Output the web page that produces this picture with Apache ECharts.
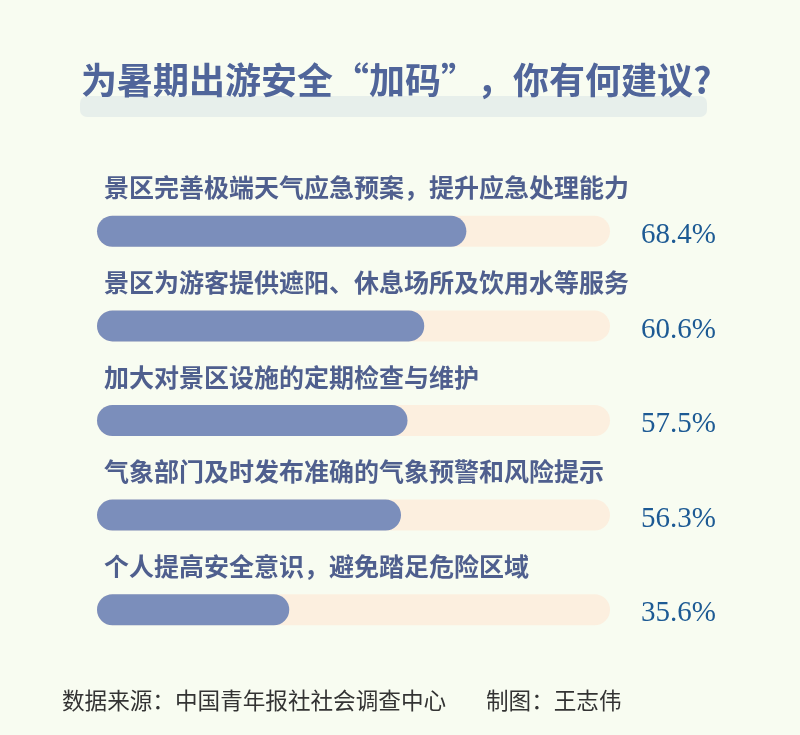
<!DOCTYPE html>
<html>
<head>
<meta charset="utf-8">
<script src="https://cdn.jsdelivr.net/npm/echarts@6/dist/echarts.min.js"></script>
<style>
html,body{margin:0;padding:0;background:#f8fcf1;}
#c{width:800px;height:735px;}
</style>
</head>
<body>
<div id="c"></div>
<script>
const categories = [
  '景区完善极端天气应急预案，提升应急处理能力',
  '景区为游客提供遮阳、休息场所及饮用水等服务',
  '加大对景区设施的定期检查与维护',
  '气象部门及时发布准确的气象预警和风险提示',
  '个人提高安全意识，避免踏足危险区域'
];
const values = [68.4, 60.6, 57.5, 56.3, 35.6];
const axisMax = 95;
const titleText = '为暑期出游安全“加码”，你有何建议?';
const sourceText = '数据来源：中国青年报社社会调查中心';
const authorText = '制图：王志伟';

const chart = echarts.init(document.getElementById('c'), null, {renderer: 'canvas'});
const cjk = '"Noto Sans CJK SC", "Noto Sans", sans-serif';
chart.setOption({
  backgroundColor: '#f8fcf1',
  animation: false,
  title: [
    {
      text: titleText,
      left: 76, top: 57, z: 10,
      textStyle: {fontSize: 36, fontWeight: 'bold', color: '#50659a', fontFamily: cjk}
    },
    {
      text: sourceText,
      left: 57, top: 684, z: 10,
      textStyle: {fontSize: 22.6, fontWeight: 'normal', color: '#333333', fontFamily: cjk}
    },
    {
      text: authorText,
      left: 481, top: 684, z: 10,
      textStyle: {fontSize: 22.6, fontWeight: 'normal', color: '#333333', fontFamily: cjk}
    }
  ],
  graphic: [
    {type: 'rect', z: 0, shape: {x: 80, y: 96, width: 627, height: 21, r: 7}, style: {fill: '#e7efeb'}}
  ],
  grid: {left: 97, right: 190, top: 184, bottom: 78},
  xAxis: {type: 'value', min: 0, max: axisMax, show: false},
  yAxis: {type: 'category', data: categories, inverse: true, show: false},
  series: [
    {
      type: 'bar', barWidth: 31, barGap: '-100%', silent: true,
      data: categories.map(() => axisMax),
      itemStyle: {color: '#fcefdf', borderRadius: 15.5},
      label: {
        show: true, position: [7, -28], align: 'left', verticalAlign: 'middle',
        formatter: p => categories[p.dataIndex],
        fontSize: 25, fontWeight: 'bold', color: '#4f5f8e', fontFamily: cjk
      }
    },
    {
      type: 'bar', barWidth: 31, barGap: '-100%', silent: true,
      data: values,
      itemStyle: {color: '#7b8ebb', borderRadius: 15.5}
    },
    {
      type: 'bar', barWidth: 31, barGap: '-100%', silent: true,
      data: categories.map(() => axisMax),
      itemStyle: {color: 'rgba(0,0,0,0)'},
      label: {
        show: true, position: 'right', distance: 31, offset: [0, 4],
        formatter: p => values[p.dataIndex].toFixed(1) + '%',
        fontSize: 29, color: '#1d5a94', fontFamily: '"Liberation Serif", "DejaVu Serif", serif'
      }
    }
  ]
});
</script>
</body>
</html>
